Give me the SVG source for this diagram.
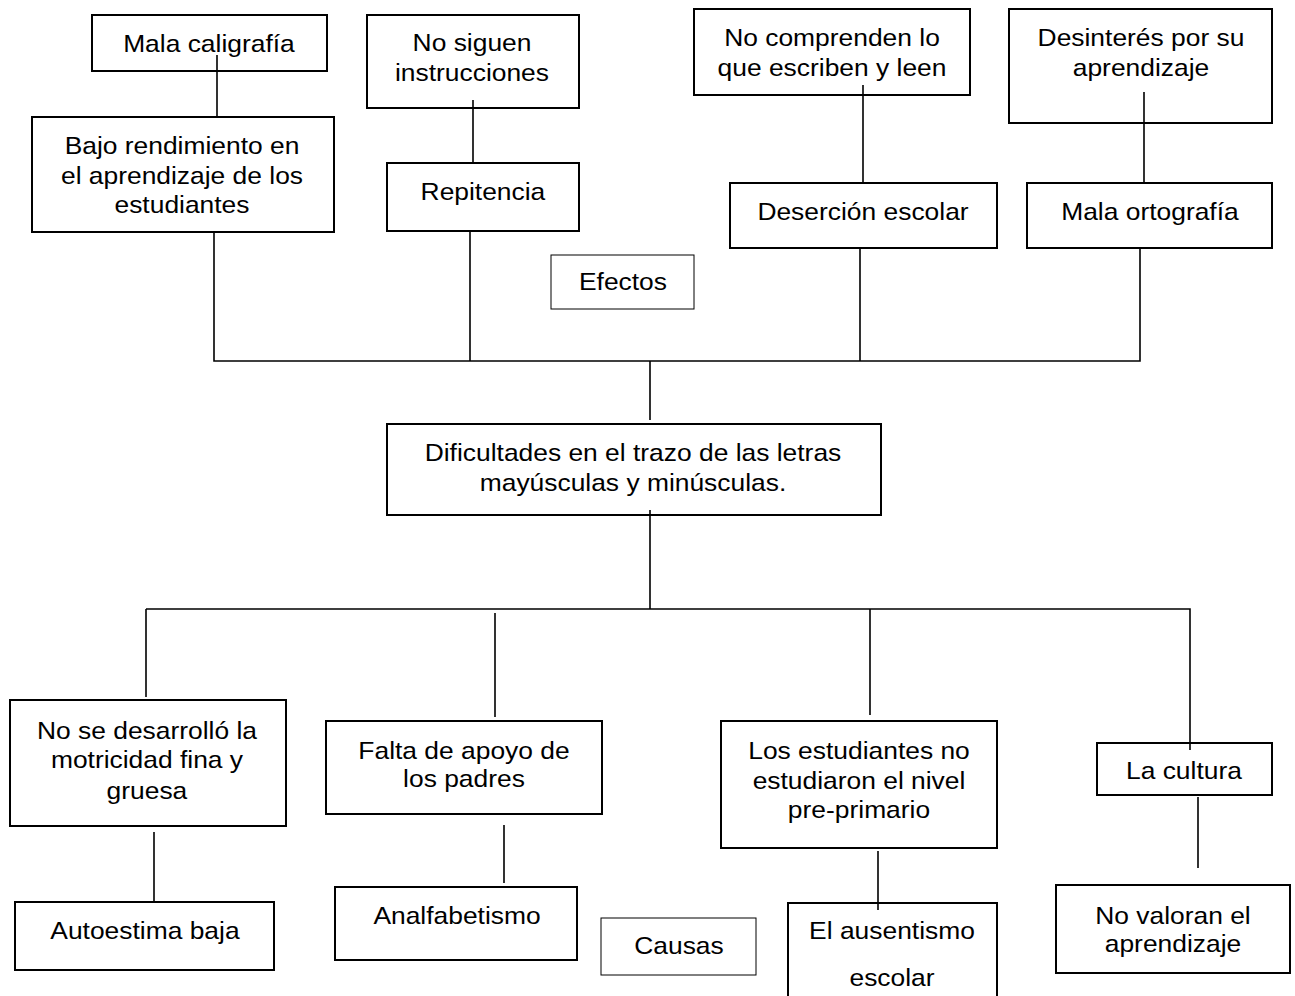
<svg xmlns="http://www.w3.org/2000/svg" width="1295" height="996" viewBox="0 0 1295 996">
<style>
.box{fill:#fff;stroke:#000;stroke-width:2}
.lab{fill:#fff;stroke:#000;stroke-width:1}
.c{fill:none;stroke:#000;stroke-width:1.6}
text{font-family:"Liberation Sans",Arial,sans-serif;font-size:24px;fill:#000;text-anchor:middle;transform-box:fill-box;transform-origin:center;transform:scaleX(1.1)}
</style>
<rect width="1295" height="996" fill="#fff"/>
<g id="n-mala-caligrafia"><rect class="box" x="92" y="15" width="235" height="56"/><text x="209" y="52">Mala caligrafía</text></g>
<g id="n-bajo"><rect class="box" x="32" y="117" width="302" height="115"/><text x="182" y="154">Bajo rendimiento en</text><text x="182" y="184">el aprendizaje de los</text><text x="182" y="213">estudiantes</text></g>
<g id="n-no-siguen"><rect class="box" x="367" y="15" width="212" height="93"/><text x="472" y="51">No siguen</text><text x="472" y="81">instrucciones</text></g>
<g id="n-repitencia"><rect class="box" x="387" y="163" width="192" height="68"/><text x="483" y="200">Repitencia</text></g>
<g id="n-no-comprenden"><rect class="box" x="694" y="9" width="276" height="86"/><text x="832" y="46">No comprenden lo</text><text x="832" y="76">que escriben y leen</text></g>
<g id="n-desercion"><rect class="box" x="730" y="183" width="267" height="65"/><text x="863" y="220">Deserción escolar</text></g>
<g id="n-desinteres"><rect class="box" x="1009" y="9" width="263" height="114"/><text x="1141" y="46">Desinterés por su</text><text x="1141" y="76">aprendizaje</text></g>
<g id="n-mala-ortografia"><rect class="box" x="1027" y="183" width="245" height="65"/><text x="1150" y="220">Mala ortografía</text></g>
<g id="n-efectos"><rect class="lab" x="551" y="255" width="143" height="54"/><text x="623" y="290">Efectos</text></g>
<g id="n-dificultades"><rect class="box" x="387" y="424" width="494" height="91"/><text x="633" y="461">Dificultades en el trazo de las letras</text><text x="633" y="491">mayúsculas y minúsculas.</text></g>
<g id="n-motricidad"><rect class="box" x="10" y="700" width="276" height="126"/><text x="147" y="739">No se desarrolló la</text><text x="147" y="768">motricidad fina y</text><text x="147" y="799">gruesa</text></g>
<g id="n-falta-apoyo"><rect class="box" x="326" y="721" width="276" height="93"/><text x="464" y="759">Falta de apoyo de</text><text x="464" y="787">los padres</text></g>
<g id="n-no-estudiaron"><rect class="box" x="721" y="721" width="276" height="127"/><text x="859" y="759">Los estudiantes no</text><text x="859" y="789">estudiaron el nivel</text><text x="859" y="818">pre-primario</text></g>
<g id="n-cultura"><rect class="box" x="1097" y="743" width="175" height="52"/><text x="1184" y="779">La cultura</text></g>
<g id="n-autoestima"><rect class="box" x="15" y="902" width="259" height="68"/><text x="145" y="939">Autoestima baja</text></g>
<g id="n-analfabetismo"><rect class="box" x="335" y="887" width="242" height="73"/><text x="457" y="924">Analfabetismo</text></g>
<g id="n-causas"><rect class="lab" x="601" y="918" width="155" height="57"/><text x="679" y="954">Causas</text></g>
<g id="n-ausentismo"><path class="box" d="M788 998V903H997V998"/><text x="892" y="939">El ausentismo</text><text x="892" y="986">escolar</text></g>
<g id="n-no-valoran"><rect class="box" x="1056" y="885" width="234" height="88"/><text x="1173" y="924">No valoran el</text><text x="1173" y="952">aprendizaje</text></g>
<g id="connectors">
<path class="c" d="M214 232V361H1140V248M470 231V361M860 248V361M650 361V420"/>
<path class="c" d="M650 510V609M146 609H1190V750M146 609V697M495 613V717M870 609V715"/>
<path class="c" d="M217 55V117M473 100V163M863 85V183M1144 92V183M154 832V901M504 825V883M878 851V910M1198 797V868"/>
</g>
</svg>
